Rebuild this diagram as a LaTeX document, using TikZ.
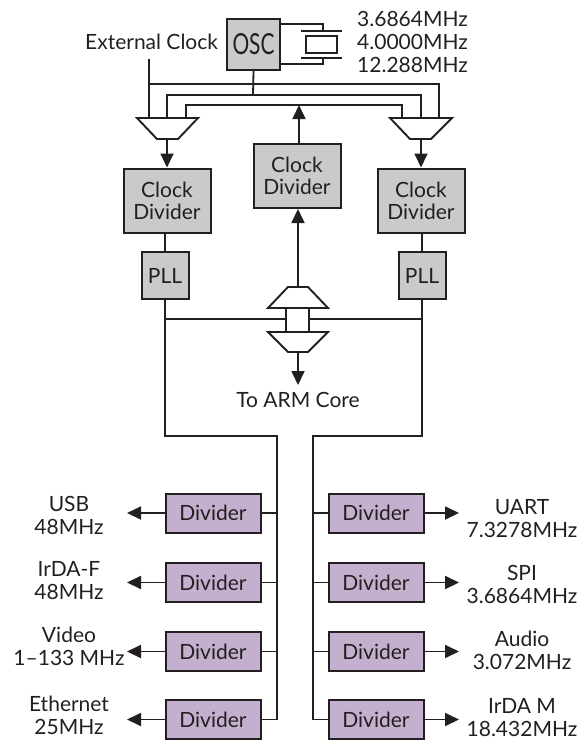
\documentclass[tikz,border=0pt]{standalone}
\usepackage{fontspec}
\setmainfont{Lato}
\usepackage{tikz}
\usetikzlibrary{positioning, arrows, arrows.meta}
\definecolor{blockgray}{HTML}{C9CACC}
\definecolor{blockpurple}{HTML}{C4B0CE}
\definecolor{inkblack}{HTML}{231F20}
\tikzset{
  wire/.style={line width=1.8pt,draw=inkblack},
  arrowwire/.style={wire,-{Triangle[length=14pt,width=13pt]}},
  block/.style={draw=inkblack,line width=2pt,inner sep=0pt,align=center,text=inkblack},
  clockblock/.style={block,fill=blockgray,minimum width=87pt,minimum height=64pt},
  pllblock/.style={block,fill=blockgray,minimum width=47pt,minimum height=47pt},
  divblock/.style={block,fill=blockpurple,minimum width=95pt,minimum height=39pt},
  mux/.style={draw=inkblack,line width=1.9pt,fill=white,line join=miter},
  lbl/.style={align=center,inner sep=0pt,text=inkblack,font=\fontsize{21}{23}\selectfont}
}
\begin{document}
\begin{tikzpicture}[x=1pt,y=-1pt,font=\fontsize{21}{22}\selectfont]
\useasboundingbox (0,0) rectangle (587,740);
% oscillator and crystal
\node[block,fill=blockgray,minimum width=53pt,minimum height=51pt] (osc) at (253.5,44.5) {\scalebox{0.72}[1]{\fontsize{29}{29}\selectfont OSC}};
\node[draw=inkblack,line width=2pt,minimum width=31pt,minimum height=17pt,inner sep=0pt] (xtal) at (321.5,44.5) {};
\coordinate (platetop) at (323,31);
\coordinate (platebot) at (323,58);
\draw[line width=2pt,draw=inkblack] (301,31)--(342,31) (301,58)--(342,58);
\draw[wire] (osc.east |- 0,24)-|(platetop);
\draw[wire] (osc.east |- 0,64)-|(platebot);
\node[lbl,align=left,anchor=west] (freq) at (357,42) {3.6864MHz\\4.0000MHz\\12.288MHz};
\node[lbl,anchor=west] (extclk) at (85,42) {External Clock};
% clock blocks
\node[clockblock] (divL) at (167,200.5) {Clock\\Divider};
\node[clockblock] (divM) at (297,176) {Clock\\Divider};
\node[clockblock] (divR) at (421,200.5) {Clock\\Divider};
\node[pllblock] (pllL) at (165,275.5) {PLL};
\node[pllblock] (pllR) at (422,275.5) {PLL};
% input muxes
\draw[mux] (137,118)--(198,118)--(178,139)--(157,139)--cycle;
\draw[mux] (390,118)--(452,118)--(431,139)--(410,139)--cycle;
\coordinate (muxLout) at (167,139);
\coordinate (muxRout) at (421,139);
% clock busses
\coordinate (busone) at (149,84);
\coordinate (bustwo) at (253,95);
\draw[wire] (149,59)--(149,118);
\draw[wire] (busone)-|(439,118);
\draw[wire] (osc.south)--(bustwo);
\draw[wire] (167,118)|-(bustwo)-|(421,118);
\draw[wire] (186,118)|-(402,105)--(402,118);
\coordinate (busthree) at (299,105);
\draw[arrowwire] (muxLout)--(divL.north);
\draw[arrowwire] (muxRout)--(divR.north);
\draw[arrowwire] (divM.north -| busthree)--(busthree);
% core muxes
\coordinate (muxUtop) at (298,287);
\coordinate (muxDout) at (298,352);
\coordinate (coretip) at (298,385);
\draw[wire] (286,308)--(286,332) (309,308)--(309,332);
\draw[mux] (288,287)--(308,287)--(328,308)--(268,308)--cycle;
\draw[mux] (268,332)--(328,332)--(308,352)--(288,352)--cycle;
\draw[arrowwire] (muxUtop)--(muxUtop |- divM.south);
\draw[arrowwire] (muxDout)--(coretip);
\node[lbl] (armcore) at (298,400) {To ARM Core};
% PLL outputs
\coordinate (junL) at (165,319);
\coordinate (junR) at (422,319);
\draw[wire] (divL.south -| pllL)--(pllL.north);
\draw[wire] (divR.south -| pllR)--(pllR.north);
\draw[wire] (junL)--(286,319);
\draw[wire] (309,319)--(junR);
\draw[wire,line join=miter] (pllL.south)--(junL)|-(277,436)--(277,720);
\draw[wire,line join=miter] (pllR.south)--(junR)|-(313,436)--(313,720);
% peripheral dividers
\foreach \n/\ypos/\lname/\rname/\ly/\ry in {
  1/513/{USB\\48MHz}/{UART\\7.3278MHz}/515.5/519,
  2/582.5/{IrDA-F\\48MHz}/{SPI\\3.6864MHz}/580.5/584.5,
  3/651.5/{Video\\1–133 MHz}/{Audio\\3.072MHz}/646.5/650.5,
  4/719.5/{Ethernet\\25MHz}/{IrDA M\\18.432MHz}/715.5/717.5}{
  \node[divblock] (dl\n) at (213,\ypos) {Divider};
  \node[divblock] (dr\n) at (376,\ypos) {Divider};
  \node[lbl] (tl\n) at (69,\ly) {\lname};
  \node[lbl] (tr\n) at (522,\ry) {\rname};
  \coordinate (tipl\n) at (127,\ypos);
  \coordinate (tipr\n) at (459,\ypos);
  \draw[wire] (dl\n.east)--(dl\n.east -| 277,0);
  \draw[wire] (dr\n.west)--(dr\n.west -| 313,0);
  \draw[arrowwire] (dl\n.west)--(tipl\n);
  \draw[arrowwire] (dr\n.east)--(tipr\n);
}
\end{tikzpicture}
\end{document}
